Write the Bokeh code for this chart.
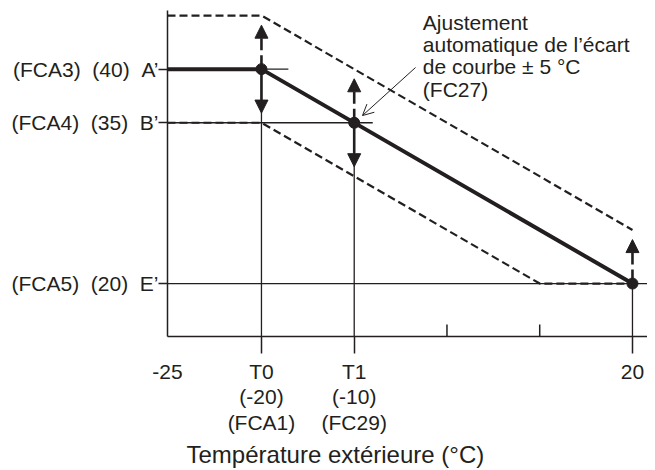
from bokeh.plotting import figure
from bokeh.models import Range1d, FixedTicker, Title, Arrow, NormalHead, OpenHead
from bokeh.core.properties import value
from bokeh.embed import file_html
from bokeh.resources import INLINE

# ---------------- data ----------------
x_lo, x_hi = -30.13, 21.62          # outdoor temperature axis span
y_lo, y_hi = 15.06, 45.47           # water setpoint axis span

# main heating curve (A' -> T0 -> E' at 20)
curve_x = [x_lo, -20, 20]
curve_y = [40, 40, 20]
# +5 / -5 shifted curves
upper_x = [x_lo, -20, 20]
upper_y = [45, 45, 25]
lower_x = [x_lo, -20, 10, 20]
lower_y = [35, 35, 20, 20]

# key points
pt_x = [-20, -10, 20]
pt_y = [40, 35, 20]

# y tick values / labels
y_ticks = [40, 35, 20]
y_labels = ["(FCA3)\u00a0\u00a0(40)\u00a0\u00a0A\u2019",
            "(FCA4)\u00a0\u00a0(35)\u00a0\u00a0B\u2019",
            "(FCA5)\u00a0\u00a0(20)\u00a0\u00a0E\u2019"]
# horizontal guide ends
guide_end = [-17.1, -8.0, x_hi]

# x tick values / labels
x_ticks = [x_lo, -20, -10, 20]
x_labels = ["-25", "T0\n(-20)\n(FCA1)", "T1\n(-10)\n(FC29)", "20"]
x_out_ticks = [-20, -10, 20]
x_in_ticks = [0, 10]
tick_in_len = 1.12

arrow_len = 4.1
title = "Temp\u00e9rature ext\u00e9rieure (\u00b0C)"
note = "Ajustement\nautomatique de l\u2019\u00e9cart\nde courbe \u00b1 5 \u00b0C\n(FC27)"
note_x, note_y = -2.6, 45.45
note_arrow = (-3.39, 40.15, -9.11, 35.67)

INK = "#231f20"
FONT = "Liberation Sans"

p = figure(frame_width=480, frame_height=326,
           x_range=Range1d(x_lo, x_hi), y_range=Range1d(y_lo, y_hi),
           output_backend="svg", toolbar_location=None,
           min_border_left=167, min_border_right=0,
           min_border_top=10, min_border_bottom=130)
p.grid.visible = False
p.outline_line_color = None
p.background_fill_color = "white"
p.border_fill_color = "white"

# ---- axes ----
xa = p.xaxis[0]
xa.ticker = FixedTicker(ticks=x_ticks, minor_ticks=x_out_ticks)
xa.major_label_overrides = dict(zip(x_ticks, x_labels))
xa.major_tick_out = 0
xa.major_tick_in = 0
xa.minor_tick_in = 0
xa.minor_tick_out = 17
xa.major_label_standoff = 6
xa.major_label_text_line_height = 1.11

ya = p.yaxis[0]
ya.ticker = FixedTicker(ticks=y_ticks)
ya.major_label_overrides = dict(zip(y_ticks, y_labels))
ya.major_tick_out = 9
ya.major_tick_in = 0
ya.major_label_standoff = 0

for ax in (xa, ya):
    ax.axis_line_color = INK
    ax.axis_line_width = 1.5
    ax.major_tick_line_color = INK
    ax.major_tick_line_width = 1.5
    ax.minor_tick_line_color = INK if ax is xa else None
    ax.minor_tick_line_width = 1.5
    ax.major_label_text_font = FONT
    ax.major_label_text_font_size = "21px"
    ax.major_label_text_color = INK

# inner ticks on the x axis
p.segment(x0=x_in_ticks, y0=[y_lo] * len(x_in_ticks), x1=x_in_ticks,
          y1=[y_lo + tick_in_len] * len(x_in_ticks), line_color=INK, line_width=1.5)

# ---- thin guide lines ----
for yv, xe in zip(y_ticks, guide_end):
    p.line([x_lo, xe], [yv, yv], line_color=INK, line_width=1.3)
for xv, yv in zip(pt_x, pt_y):
    p.line([xv, xv], [yv, y_lo], line_color=INK, line_width=1.3)

# ---- shifted curves ----
p.line(upper_x, upper_y, line_color=INK, line_width=2.2, line_dash="8 4")
p.line(lower_x, lower_y, line_color=INK, line_width=2.2, line_dash="8 4")

# ---- main curve ----
p.line(curve_x, curve_y, line_color=INK, line_width=4)

# ---- adjustment arrows ----
for xv, yv in zip(pt_x, pt_y):
    p.add_layout(Arrow(x_start=xv, y_start=yv, x_end=xv, y_end=yv + arrow_len,
                       line_color=INK, line_width=2.6, line_dash="14 5 40",
                       end=NormalHead(size=13, fill_color=INK, line_color=INK, line_width=1)))
for xv, yv in zip(pt_x[:2], pt_y[:2]):
    p.add_layout(Arrow(x_start=xv, y_start=yv, x_end=xv, y_end=yv - arrow_len,
                       line_color=INK, line_width=2.6,
                       end=NormalHead(size=13, fill_color=INK, line_color=INK, line_width=1)))

p.scatter(pt_x, pt_y, size=11, fill_color=INK, line_color=INK)

# ---- annotation ----
p.text(x=[note_x], y=[note_y], text=[note], text_font=value(FONT),
       text_font_size="21px", text_color=INK, text_baseline="top",
       text_align="left", text_line_height=0.97)
p.add_layout(Arrow(x_start=note_arrow[0], y_start=note_arrow[1],
                   x_end=note_arrow[2], y_end=note_arrow[3],
                   line_color=INK, line_width=1,
                   end=OpenHead(size=11, line_color=INK, line_width=1)))

# ---- axis title ----
p.add_layout(Title(text=title, align="left", offset=19, standoff=4,
                   text_font=FONT, text_font_size="24px", text_font_style="normal",
                   text_color=INK), "below")

open("out.html", "w").write(file_html(p, INLINE))
